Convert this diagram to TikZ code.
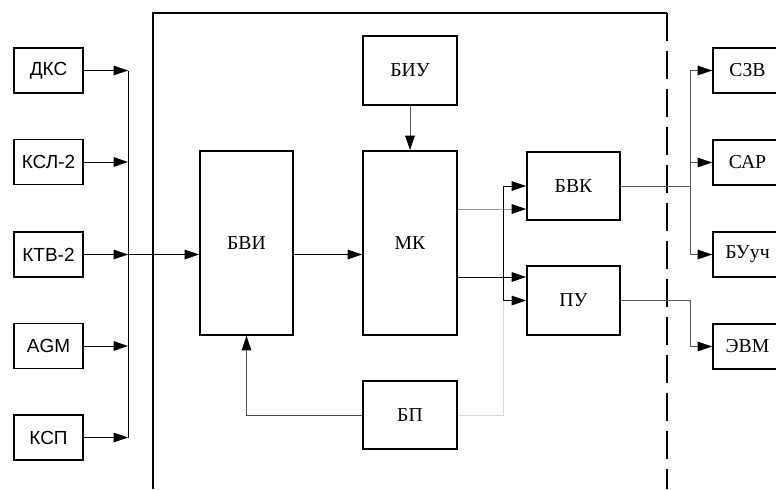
\documentclass[tikz,border=0pt]{standalone}
\usepackage{fontspec}
\setmainfont{Liberation Serif}
\setsansfont{Liberation Sans}
\usetikzlibrary{arrows.meta}
\tikzset{
  blk/.style={draw, line width=1.3pt, inner sep=0pt, font=\fontsize{14}{16}\selectfont},
  srcblk/.style={blk, minimum width=1.725cm, minimum height=1.125cm, font=\sffamily\fontsize{13.5}{16}\selectfont},
  dstblk/.style={blk, minimum width=1.725cm, minimum height=1.125cm},
  link/.style={line width=0.6pt},
  arr/.style={link, -{Triangle[length=0.36cm, width=0.24cm, black]}}
}
\begin{document}
\begin{tikzpicture}[x=0.025cm, y=-0.025cm]
        \path[use as bounding box, clip] (0,0) rectangle (776,489);
        % outer frame
        \draw[line width=1pt] (153,489) -- (153,13) -- (667,13);
        \draw[line width=1.6pt, dash pattern=on 20 off 7] (667,13) -- (667,489);
        % sources
        \node[srcblk] (dks) at (48.5,70.5) {ДКС};
        \node[srcblk] (ksl) at (48.5,162) {КСЛ-2};
        \node[srcblk] (ktv) at (48.5,254.5) {КТВ-2};
        \node[srcblk] (agm) at (48.5,346) {AGM};
        \node[srcblk] (ksp) at (48.5,437.5) {КСП};
        \coordinate (busL) at (128,0);
        % inner blocks
        \node[blk, minimum width=2.325cm, minimum height=4.6cm] (bvi) at (246.5,243) {БВИ};
        \node[blk, minimum width=2.35cm, minimum height=4.6cm] (mk) at (410,243) {МК};
        \node[blk, minimum width=2.35cm, minimum height=1.725cm] (biu) at (410,70.5) {БИУ};
        \node[blk, minimum width=2.35cm, minimum height=1.7cm] (bp) at (410,415) {БП};
        \node[blk, minimum width=2.325cm, minimum height=1.7cm] (bvk) at (573.5,186) {БВК};
        \node[blk, minimum width=2.325cm, minimum height=1.725cm] (pu) at (573.5,300.5) {ПУ};
        \coordinate (busM) at (503,0);
        % receivers
        \node[dstblk] (szv) at (747.5,70.5) {СЗВ};
        \node[dstblk] (sar) at (747.5,162.5) {САР};
        \node[dstblk] (buuch) at (747.5,254.5) {БУуч};
        \node[dstblk] (evm) at (747.5,346.5) {ЭВМ};
        \coordinate (busR) at (690,0);
        % left bus
        \foreach \src in {dks,ksl,ktv,agm,ksp}
            \draw[arr] (\src.east) -- (\src -| busL);
        \draw[link] (dks -| busL) -- (ksp -| busL);
        \draw[arr] (ktv -| busL) -- (ktv -| bvi.west);
        % inner links
        \draw[arr] (ktv -| bvi.east) -- (ktv -| mk.west);
        \draw[arr, gray!70!black] (biu) -- (mk);
        \draw[arr, gray!80] (mk.east |- 0,209) -- (bvk.west |- 0,209);
        \draw[arr] (mk.east |- 0,277) -- (pu.west |- 0,277);
        \draw[link, black!15] (bp.east) -| (busM |- pu);
        \draw[link] (busM |- bvk) -- (busM |- pu);
        \draw[arr] (busM |- bvk) -- (bvk.west);
        \draw[arr] (busM |- pu) -- (pu.west);
        \draw[arr, gray!60!black] (bp.west) -| (bvi.south);
        % right bus
        \draw[link, gray!70!black] (bvk.east) -- (busR |- bvk);
        \draw[link, gray!70!black] (busR |- szv) -- (busR |- buuch);
        \foreach \dst in {szv,sar,buuch}
            \draw[arr, gray!70!black] (busR |- \dst) -- (\dst.west);
        \draw[arr, gray!70!black] (pu.east) -| (busR |- evm) -- (evm.west);
    \end{tikzpicture}
\end{document}
